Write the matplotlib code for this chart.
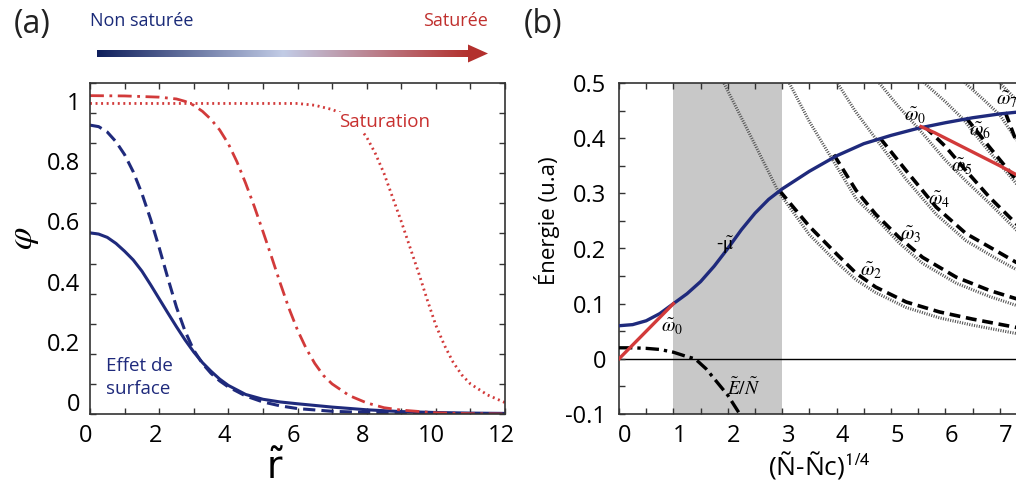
import numpy as np
import matplotlib
matplotlib.use("Agg")
import matplotlib.pyplot as plt
import matplotlib.patches as patches
from matplotlib.colors import LinearSegmentedColormap
from matplotlib.transforms import ScaledTranslation

# ---- panel (a) : profiles phi(r) ----
r_solid = [0, 0.25, 0.5, 0.75, 1, 1.25, 1.5, 1.75, 2, 2.25, 2.5, 2.75, 3, 3.25, 3.5,
           3.75, 4, 4.5, 5, 5.5, 6, 7, 8, 9, 10, 11, 12]
phi_solid = [0.602, 0.598, 0.587, 0.567, 0.541, 0.512, 0.475, 0.43, 0.383, 0.336, 0.29,
             0.246, 0.206, 0.171, 0.142, 0.116, 0.095, 0.065, 0.049, 0.04, 0.034, 0.023,
             0.014, 0.008, 0.005, 0.003, 0.002]

r_dashed = [0, 0.25, 0.5, 0.75, 1, 1.25, 1.5, 1.75, 2, 2.25, 2.5, 2.75, 3, 3.25, 3.5,
            3.75, 4, 4.5, 5, 5.5, 6, 7, 8, 9, 10, 11, 12]
phi_dashed = [0.96, 0.955, 0.937, 0.905, 0.862, 0.805, 0.733, 0.648, 0.553, 0.452, 0.355,
              0.275, 0.212, 0.168, 0.135, 0.11, 0.09, 0.06, 0.04, 0.027, 0.018, 0.009,
              0.005, 0.003, 0.002, 0.001, 0.001]

r_dashdot = [0, 1, 2, 2.5, 2.75, 3, 3.25, 3.5, 3.75, 4, 4.25, 4.5, 4.75, 5, 5.25, 5.5,
             5.75, 6, 6.25, 6.5, 6.75, 7, 7.5, 8, 8.5, 9, 10, 11, 12]
phi_dashdot = [1.058, 1.057, 1.053, 1.047, 1.039, 1.026, 1.006, 0.979, 0.944, 0.898, 0.838,
               0.767, 0.69, 0.607, 0.522, 0.435, 0.352, 0.279, 0.218, 0.168, 0.128, 0.1,
               0.061, 0.037, 0.021, 0.013, 0.004, 0.001, 0.0]

r_dotted = [0, 1, 2, 3, 4, 5, 6, 6.5, 7, 7.25, 7.5, 7.75, 8, 8.25, 8.5, 8.75, 9, 9.25,
            9.5, 9.75, 10, 10.25, 10.5, 10.75, 11, 11.5, 12]
phi_dotted = [1.032, 1.032, 1.032, 1.032, 1.032, 1.032, 1.032, 1.026, 1.012, 1.0, 0.982,
              0.958, 0.92, 0.866, 0.8, 0.72, 0.64, 0.555, 0.47, 0.38, 0.295, 0.228, 0.172,
              0.13, 0.1, 0.063, 0.038]

# ---- panel (b) : energies vs (N-Nc)^(1/4) ----
x_mu = [0, 0.25, 0.5, 0.75, 1.0, 1.25, 1.5, 1.75, 2.0, 2.25, 2.5, 2.75, 3.0, 3.5, 4.0,
        4.5, 5.0, 5.5, 6.0, 6.5, 7.0, 7.5, 8.0]
mu = [0.06, 0.062, 0.069, 0.082, 0.1, 0.118, 0.14, 0.168, 0.2, 0.234, 0.264, 0.289, 0.308,
      0.34, 0.368, 0.39, 0.405, 0.418, 0.428, 0.437, 0.444, 0.449, 0.453]

x_w0_low = [0, 1.0]
w0_low = [0, 0.1]
x_w0_high = [5.55, 5.8, 6.0, 6.5, 7.0, 7.3, 8.0]
w0_high = [0.421, 0.41, 0.4, 0.375, 0.35, 0.334, 0.3]

x_en = [0, 0.25, 0.5, 0.75, 1.0, 1.25, 1.4, 1.6, 1.8, 2.0, 2.2, 2.35]
en = [0.02, 0.02, 0.019, 0.017, 0.012, 0.004, 0.0, -0.018, -0.042, -0.066, -0.097, -0.12]

# dotted (full) branches
x_dot = {
    2: [1.85, 2.44, 2.93, 3.5, 4.0, 4.36, 4.72, 5.28, 5.9, 6.5, 7.3, 8.0],
    3: [3.05, 3.5, 3.9, 4.36, 4.72, 5.15, 5.58, 6.2, 6.81, 7.3, 8.0],
    4: [3.95, 4.35, 4.75, 5.28, 5.83, 6.38, 6.93, 7.3, 8.0],
    5: [4.7, 5.15, 5.5, 6.0, 6.38, 6.81, 7.3, 8.0],
    6: [5.5, 6.0, 6.33, 6.7, 7.3, 8.0],
    7: [6.25, 6.7, 7.0, 7.3, 8.0],
    8: [6.9, 7.3, 8.0],
}
w_dot = {
    2: [0.515, 0.40, 0.303, 0.225, 0.175, 0.143, 0.12, 0.093, 0.074, 0.061, 0.046, 0.037],
    3: [0.515, 0.43, 0.365, 0.29, 0.255, 0.21, 0.173, 0.137, 0.113, 0.097, 0.08],
    4: [0.51, 0.448, 0.395, 0.325, 0.262, 0.214, 0.182, 0.162, 0.135],
    5: [0.51, 0.456, 0.418, 0.36, 0.322, 0.282, 0.234, 0.19],
    6: [0.51, 0.466, 0.434, 0.388, 0.318, 0.26],
    7: [0.51, 0.47, 0.442, 0.398, 0.31],
    8: [0.51, 0.47, 0.39],
}
# dashed (physical) branches
x_dash = {
    2: [2.95, 3.5, 4.0, 4.36, 4.72, 5.28, 5.89, 6.5, 7.3, 8.0],
    3: [3.95, 4.36, 4.72, 5.15, 5.58, 6.2, 6.81, 7.3, 8.0],
    4: [4.8, 5.28, 5.83, 6.38, 6.93, 7.3, 8.0],
    5: [5.62, 6.0, 6.38, 6.81, 7.3, 8.0],
    6: [6.38, 6.8, 7.3, 8.0],
    7: [7.1, 7.3, 8.0],
}
w_dash = {
    2: [0.305, 0.24, 0.19, 0.155, 0.13, 0.103, 0.085, 0.072, 0.057, 0.048],
    3: [0.37, 0.305, 0.262, 0.22, 0.184, 0.148, 0.124, 0.109, 0.09],
    4: [0.4, 0.341, 0.275, 0.227, 0.196, 0.175, 0.145],
    5: [0.421, 0.385, 0.341, 0.293, 0.245, 0.195],
    6: [0.437, 0.385, 0.325, 0.265],
    7: [0.447, 0.395, 0.32],
}

navy = "#1f2a7c"
red = "#d23a3a"
grad_colors = ["#0f1f5c", "#c2cce6", "#b3302d"]

plt.rcParams['font.family'] = ['Open Sans', 'DejaVu Sans']
plt.rcParams['mathtext.fontset'] = 'stix'

W, H = 1016, 494
fig = plt.figure(figsize=(W / 100, H / 100), dpi=100)


def px_box(x0, y0, x1, y1):
    """Axes rectangle from pixel corners (top-left origin)."""
    return [x0 / W, 1 - y1 / H, (x1 - x0) / W, (y1 - y0) / H]


def style_axes(ax):
    for s in ax.spines.values():
        s.set_color("#333333")
        s.set_linewidth(1.2)
    ax.tick_params(which='both', direction='in', top=True, right=True, length=4,
                   width=1, color="#333333", labelsize=17, pad=7)


# ---------- (a) ----------
axa = fig.add_axes(px_box(90, 83, 505, 414))
axa.plot(r_solid, phi_solid, color=navy, lw=2.2)
axa.plot(r_dashed, phi_dashed, color=navy, lw=2.2, ls=(0, (4, 2)))
axa.plot(r_dashdot, phi_dashdot, color=red, lw=2.0, ls=(0, (5, 2, 1, 2)))
axa.plot(r_dotted, phi_dotted, color=red, lw=2.0, ls=(0, (0.7, 1.3)))
axa.set_xlim(0, 12)
axa.set_ylim(0, 1.1)
axa.set_xticks(range(0, 13, 2))
axa.set_xticks(range(0, 13), minor=True)
axa.set_xticklabels([str(v) for v in range(0, 13, 2)])
axa.set_yticks([0, 0.2, 0.4, 0.6, 0.8, 1.0])
axa.set_yticks(np.arange(0, 1.11, 0.1), minor=True)
axa.set_yticklabels(["0", "0.2", "0.4", "0.6", "0.8", "1"])
style_axes(axa)
for lab in axa.get_yticklabels():
    lab.set_transform(lab.get_transform() + ScaledTranslation(0, 0.12, fig.dpi_scale_trans))
for lab in axa.get_xticklabels():
    lab.set_transform(lab.get_transform() + ScaledTranslation(-0.04, 0, fig.dpi_scale_trans))

axa.text(-0.162, 0.53, r'$\varphi$', transform=axa.transAxes, rotation=90,
         fontsize=26, ha='center', va='center')
axa.text(0.446, -0.165, r'$\tilde{\mathrm{r}}$', transform=axa.transAxes,
         fontsize=27, ha='center', va='center', math_fontfamily='dejavusans')
axa.text(7.2, 0.97, "Saturation", color="#c8302f", fontsize=13.5, ha='left', va='center',
         bbox=dict(facecolor='white', edgecolor='none', pad=1))
axa.text(0.45, 0.12, "Effet de\nsurface", color=navy, fontsize=13.5, ha='left',
         va='center', linespacing=1.35)

# ---------- (b) ----------
axb = fig.add_axes(px_box(619, 83, 619 + 8 * 54.4, 414))
axb.axvspan(1, 3, color="#c8c8c8", lw=0, zorder=0)
axb.axhline(0, color="black", lw=1.0, zorder=1)
for n in x_dot:
    axb.plot(x_dot[n], w_dot[n], color="#555555", lw=2.2, ls=(0, (0.35, 0.45)), zorder=2)
for n in x_dash:
    axb.plot(x_dash[n], w_dash[n], color="black", lw=2.6, ls=(0, (3, 1.6)), zorder=3)
axb.plot(x_en, en, color="black", lw=2.4, ls=(0, (4, 1.5, 1, 1.5)), zorder=3)
axb.plot(x_mu, mu, color=navy, lw=2.4, zorder=4)
axb.plot(x_w0_low, w0_low, color=red, lw=2.4, zorder=5)
axb.plot(x_w0_high, w0_high, color=red, lw=2.4, zorder=5)
axb.set_xlim(0, 8)
axb.set_ylim(-0.1, 0.5)
axb.set_xticks(range(0, 8))
axb.set_xticks(np.arange(0, 8.01, 0.5), minor=True)
axb.set_yticks([-0.1, 0, 0.1, 0.2, 0.3, 0.4, 0.5])
axb.set_yticks(np.arange(-0.1, 0.51, 0.05), minor=True)
axb.set_yticklabels(["-0.1", "0", "0.1", "0.2", "0.3", "0.4", "0.5"])
style_axes(axb)
axb.tick_params(axis='y', pad=9)
for lab in axb.get_xticklabels():
    lab.set_transform(lab.get_transform() + ScaledTranslation(0.06, 0, fig.dpi_scale_trans))

axb.text(-0.166, 0.585, "Énergie (u.a)", transform=axb.transAxes, rotation=90,
         fontsize=16, ha='center', va='center')
axb.text(0.46, -0.155, r"(Ñ-Ñc)$^{\mathsf{1/4}}$", transform=axb.transAxes,
         fontsize=19, ha='center', va='center')

labels_b = [
    (0.97, 0.058, r'$\tilde{\omega}_0$'),
    (5.44, 0.44, r'$\tilde{\omega}_0$'),
    (4.63, 0.16, r'$\tilde{\omega}_2$'),
    (5.37, 0.224, r'$\tilde{\omega}_3$'),
    (5.89, 0.288, r'$\tilde{\omega}_4$'),
    (6.3, 0.348, r'$\tilde{\omega}_5$'),
    (6.64, 0.414, r'$\tilde{\omega}_6$'),
    (7.13, 0.47, r'$\tilde{\omega}_7$'),
    (1.95, 0.205, r'-$\tilde{\mathrm{\mu}}$'),
    (2.29, -0.054, r'$\tilde{E}/\tilde{N}$'),
]
for x, y, s in labels_b:
    axb.text(x, y, s, fontsize=14, ha='center', va='center', zorder=6)

# ---------- header: panel letters and gradient arrow ----------
ovl = fig.add_axes([0, 0, 1, 1], facecolor='none')
cmap = LinearSegmentedColormap.from_list("sat", grad_colors)
ovl.imshow(np.linspace(0, 1, 256)[None, :], cmap=cmap, aspect='auto',
           extent=(97, 470, 57, 50), interpolation='bilinear')
ovl.add_patch(patches.Polygon([(468, 44.5), (488, 53.5), (468, 62.5)], closed=True,
                              facecolor=grad_colors[-1], edgecolor='none'))
ovl.set_xlim(0, W)
ovl.set_ylim(H, 0)
ovl.axis('off')
ovl.text(90, 21, "Non saturée", color="#1a2a78", fontsize=13, ha='left', va='center')
ovl.text(488, 21, "Saturée", color="#c0302e", fontsize=13, ha='right', va='center')
ovl.text(14, 24, "(a)", fontsize=23, ha='left', va='center', color="#222222")
ovl.text(524, 24, "(b)", fontsize=23, ha='left', va='center', color="#222222")

fig.savefig("out.png", dpi=100)
